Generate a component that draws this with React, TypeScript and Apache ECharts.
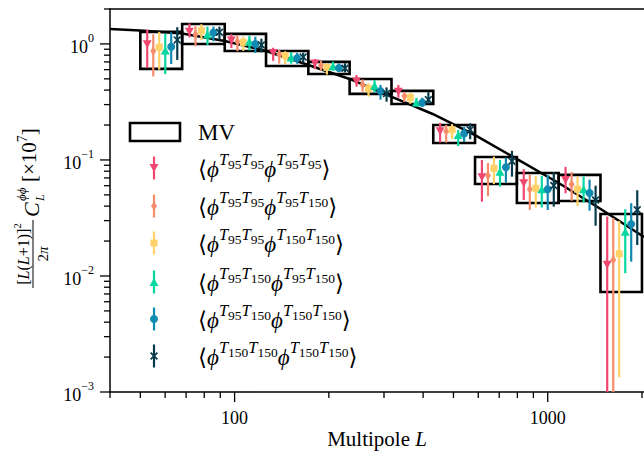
import React, { useEffect, useRef } from 'react';
import * as echarts from 'echarts';

// ---------------- data ----------------
const binEdges = [50, 68, 93, 126, 172, 233, 317, 431, 586, 797, 1084, 1474, 2000];
const mvLow = [0.609, 1.0, 0.870, 0.646, 0.551, 0.371, 0.304, 0.140, 0.0621, 0.0426, 0.0443, 0.00728];
const mvHigh = [1.269, 1.487, 1.22, 0.870, 0.700, 0.499, 0.394, 0.200, 0.106, 0.0773, 0.0743, 0.0342];

const theoryL = [40, 50, 68, 93, 126, 172, 233, 315, 429, 584, 796, 1084, 1476, 2030];
const theoryVal = [1.347, 1.307, 1.232, 1.061, 0.870, 0.659, 0.499, 0.3527, 0.249, 0.1643, 0.102, 0.0633, 0.0378, 0.0217];

const s1Val = [0.994, 1.274, 1.072, 0.836, 0.679, 0.475, 0.388, 0.177, 0.0711, 0.063, 0.0672, 0.0125];
const s1Hi = [1.33, 1.50, 1.212, 0.927, 0.740, 0.540, 0.443, 0.2085, 0.100, 0.0833, 0.0871, 0.0325];
const s1Lo = [0.621, 1.14, 0.924, 0.714, 0.606, 0.428, 0.344, 0.141, 0.0437, 0.0452, 0.0516, 0.0005];

const s2Val = [0.870, 1.203, 1.05, 0.809, 0.653, 0.445, 0.356, 0.177, 0.0735, 0.0559, 0.0618, 0.01374];
const s2Hi = [1.21, 1.42, 1.195, 0.888, 0.717, 0.494, 0.386, 0.2003, 0.0942, 0.0747, 0.0788, 0.0316];
const s2Lo = [0.525, 0.955, 0.865, 0.676, 0.588, 0.388, 0.316, 0.141, 0.0486, 0.0371, 0.0445, 0.0005];

const s3Val = [0.937, 1.30, 1.03, 0.793, 0.627, 0.411, 0.345, 0.182, 0.0847, 0.057, 0.0559, 0.01556];
const s3Hi = [1.27, 1.48, 1.156, 0.865, 0.682, 0.458, 0.378, 0.204, 0.1068, 0.0724, 0.0718, 0.0298];
const s3Lo = [0.600, 1.08, 0.87, 0.670, 0.544, 0.351, 0.305, 0.151, 0.0619, 0.039, 0.0401, 0.00134];

const s4Val = [0.879, 1.203, 1.047, 0.765, 0.642, 0.436, 0.312, 0.164, 0.0793, 0.0559, 0.0559, 0.0241];
const s4Hi = [1.227, 1.41, 1.177, 0.850, 0.704, 0.487, 0.343, 0.182, 0.100, 0.0731, 0.0718, 0.0376];
const s4Lo = [0.549, 0.98, 0.879, 0.675, 0.588, 0.382, 0.288, 0.132, 0.0589, 0.039, 0.043, 0.01055];

const s5Val = [0.946, 1.25, 1.0, 0.754, 0.621, 0.392, 0.312, 0.169, 0.0865, 0.0559, 0.0519, 0.028];
const s5Hi = [1.256, 1.41, 1.153, 0.836, 0.682, 0.443, 0.343, 0.193, 0.1045, 0.0743, 0.0676, 0.0424];
const s5Lo = [0.672, 1.055, 0.836, 0.675, 0.574, 0.331, 0.285, 0.143, 0.0637, 0.0371, 0.0365, 0.01328];

const s6Val = [1.083, 1.26, 0.98, 0.770, 0.617, 0.373, 0.331, 0.182, 0.0975, 0.0603, 0.0452, 0.0372];
const s6Hi = [1.393, 1.41, 1.11, 0.840, 0.682, 0.422, 0.384, 0.207, 0.120, 0.0785, 0.060, 0.0548];
const s6Lo = [0.728, 1.09, 0.845, 0.689, 0.568, 0.318, 0.302, 0.151, 0.0718, 0.0396, 0.0271, 0.0185];

// per-estimator horizontal offset (multiplicative, around bin centre)
const seriesOffsets = [0.902, 0.943, 0.985, 1.030, 1.076, 1.125];
// superscript channel pairs for legend labels
const seriesChannels = [
  [['95', '95'], ['95', '95']],
  [['95', '95'], ['95', '150']],
  [['95', '95'], ['150', '150']],
  [['95', '150'], ['95', '150']],
  [['95', '150'], ['150', '150']],
  [['150', '150'], ['150', '150']],
];
const seriesColors = ['#ef476f', '#f78c6b', '#ffd166', '#06d6a0', '#118ab2', '#073b4c'];
const seriesMarkers = ['down', 'diamond', 'square', 'up', 'circle', 'x'];

const xMajorTicks = [100, 1000];
const xMinorTicks = [40, 50, 60, 70, 80, 90, 200, 300, 400, 500, 600, 700, 800, 900, 2000];
const yMajorTicks = [0.001, 0.01, 0.1, 1];
const yMinorTicks = [0.002, 0.003, 0.004, 0.005, 0.006, 0.007, 0.008, 0.009,
  0.02, 0.03, 0.04, 0.05, 0.06, 0.07, 0.08, 0.09,
  0.2, 0.3, 0.4, 0.5, 0.6, 0.7, 0.8, 0.9, 2];

const X_MIN = 40;
const X_MAX = 2030;
const Y_MIN = 0.001;
const Y_MAX = 2;

const FONT = "'Liberation Serif', 'DejaVu Serif', serif";

const allVal = [s1Val, s2Val, s3Val, s4Val, s5Val, s6Val];
const allHi = [s1Hi, s2Hi, s3Hi, s4Hi, s5Hi, s6Hi];
const allLo = [s1Lo, s2Lo, s3Lo, s4Lo, s5Lo, s6Lo];

const binCenters = binEdges.slice(0, -1).map((e, i) => Math.sqrt(e * binEdges[i + 1]));

const X_PATH = 'path://M0,1.5L1.5,0L5,3.5L8.5,0L10,1.5L6.5,5L10,8.5L8.5,10L5,6.5L1.5,10L0,8.5L3.5,5Z';

function scatterSymbol(kind: string) {
  switch (kind) {
    case 'down': return { symbol: 'triangle', symbolRotate: 180, symbolSize: [9, 8] };
    case 'diamond': return { symbol: 'diamond', symbolRotate: 0, symbolSize: [6, 9] };
    case 'square': return { symbol: 'rect', symbolRotate: 0, symbolSize: 7 };
    case 'up': return { symbol: 'triangle', symbolRotate: 0, symbolSize: [9, 8] };
    case 'circle': return { symbol: 'circle', symbolRotate: 0, symbolSize: 8 };
    default: return { symbol: X_PATH, symbolRotate: 0, symbolSize: 8 };
  }
}

function legendMarker(kind: string, cx: number, cy: number, color: string): any {
  const st = { fill: color };
  switch (kind) {
    case 'down': return { type: 'polygon', shape: { points: [[cx - 4.5, cy - 4], [cx + 4.5, cy - 4], [cx, cy + 4]] }, style: st };
    case 'diamond': return { type: 'polygon', shape: { points: [[cx, cy - 4.5], [cx + 3, cy], [cx, cy + 4.5], [cx - 3, cy]] }, style: st };
    case 'square': return { type: 'rect', shape: { x: cx - 3.5, y: cy - 3.5, width: 7, height: 7 }, style: st };
    case 'up': return { type: 'polygon', shape: { points: [[cx - 4.5, cy + 4], [cx + 4.5, cy + 4], [cx, cy - 4]] }, style: st };
    case 'circle': return { type: 'circle', shape: { cx, cy, r: 4 }, style: st };
    default: {
      const p = [[0, 1.5], [1.5, 0], [5, 3.5], [8.5, 0], [10, 1.5], [6.5, 5], [10, 8.5], [8.5, 10], [5, 6.5], [1.5, 10], [0, 8.5], [3.5, 5]];
      return { type: 'polygon', shape: { points: p.map(([a, b]) => [cx - 4 + a * 0.8, cy - 4 + b * 0.8]) }, style: st };
    }
  }
}

function legendText(ch: string[][]) {
  const sup = (pair: string[]) => `{t|T}{n|${pair[0]}}{t|T}{n|${pair[1]}}`;
  return `{br|⟨}{ph|ϕ}${sup(ch[0])}{ph|ϕ}${sup(ch[1])}{br|⟩}`;
}

const legendRich = {
  br: { fontFamily: FONT, fontSize: 23, lineHeight: 30, verticalAlign: 'bottom', color: '#000' },
  ph: { fontFamily: FONT, fontSize: 23, fontStyle: 'italic', lineHeight: 30, verticalAlign: 'bottom', color: '#000' },
  t: { fontFamily: FONT, fontSize: 16.5, fontStyle: 'italic', lineHeight: 16, verticalAlign: 'top', color: '#000' },
  n: { fontFamily: FONT, fontSize: 13.5, lineHeight: 13, verticalAlign: 'top', padding: [6, 0, 0, 0], color: '#000' },
};

function isPow10(v: number) {
  const e = Math.log10(v);
  return Math.abs(e - Math.round(e)) < 1e-6;
}

function buildOption(): any {
  const series: any[] = [];

  // MV boxes
  series.push({
    type: 'custom',
    name: 'MV',
    coordinateSystem: 'cartesian2d',
    silent: true,
    z: 1,
    encode: { x: [0, 1], y: [2, 3] },
    data: mvLow.map((lo, i) => [binEdges[i], binEdges[i + 1], lo, mvHigh[i]]),
    renderItem: (params: any, api: any) => {
      const p0 = api.coord([api.value(0), api.value(3)]);
      const p1 = api.coord([api.value(1), api.value(2)]);
      return {
        type: 'rect',
        shape: { x: p0[0], y: p0[1], width: p1[0] - p0[0], height: p1[1] - p0[1] },
        style: { fill: 'none', stroke: '#000', lineWidth: 2.6 },
      };
    },
  });

  // theory curve
  series.push({
    type: 'line',
    name: 'theory',
    data: theoryL.map((l, i) => [l, theoryVal[i]]),
    showSymbol: false,
    smooth: false,
    z: 2,
    lineStyle: { color: '#000', width: 2.5, join: 'round' },
    silent: true,
  });

  // estimators
  for (let k = 0; k < 6; k++) {
    const xs = binCenters.map((c) => c * seriesOffsets[k]);
    series.push({
      type: 'custom',
      name: 'err' + k,
      coordinateSystem: 'cartesian2d',
      silent: true,
      z: 3,
      encode: { x: 0, y: [1, 2] },
      data: xs.map((x, i) => [x, allLo[k][i], allHi[k][i]]),
      renderItem: (params: any, api: any) => {
        const cs = params.coordSys;
        const a = api.coord([api.value(0), api.value(2)]);
        const b = api.coord([api.value(0), api.value(1)]);
        const bottom = cs.y + cs.height;
        return {
          type: 'line',
          shape: { x1: a[0], y1: Math.max(a[1], cs.y), x2: b[0], y2: Math.min(b[1], bottom) },
          style: { stroke: seriesColors[k], lineWidth: 2.2 },
        };
      },
    });
    series.push({
      type: 'scatter',
      name: 'pt' + k,
      z: 4,
      silent: true,
      data: xs.map((x, i) => [x, allVal[k][i]]),
      itemStyle: { color: seriesColors[k], opacity: 1 },
      ...scatterSymbol(seriesMarkers[k]),
    });
  }

  // ticks
  const tickStyle = { stroke: '#000', lineWidth: 1.3 };
  series.push({
    type: 'custom',
    name: 'xticks',
    coordinateSystem: 'cartesian2d',
    silent: true,
    clip: false,
    z: 5,
    encode: { x: 0, y: 1 },
    data: [...xMajorTicks.map((v) => [v, Y_MIN, 1]), ...xMinorTicks.map((v) => [v, Y_MIN, 0])],
    renderItem: (params: any, api: any) => {
      const p = api.coord([api.value(0), api.value(1)]);
      const len = api.value(2) ? 10 : 6;
      return { type: 'line', shape: { x1: p[0], y1: p[1], x2: p[0], y2: p[1] + len }, style: tickStyle };
    },
  });
  series.push({
    type: 'custom',
    name: 'yticks',
    coordinateSystem: 'cartesian2d',
    silent: true,
    clip: false,
    z: 5,
    encode: { x: 0, y: 1 },
    data: [...yMajorTicks.map((v) => [X_MIN, v, 1]), ...yMinorTicks.map((v) => [X_MIN, v, 0])],
    renderItem: (params: any, api: any) => {
      const p = api.coord([api.value(0), api.value(1)]);
      const len = api.value(2) ? 10 : 6;
      return { type: 'line', shape: { x1: p[0] - len, y1: p[1], x2: p[0], y2: p[1] }, style: tickStyle };
    },
  });

  // legend (drawn as graphic)
  const graphic: any[] = [];
  graphic.push({ type: 'rect', shape: { x: 130, y: 123, width: 50, height: 18 }, style: { fill: 'none', stroke: '#000', lineWidth: 2.6 } });
  graphic.push({ type: 'text', x: 198, y: 132, style: { text: 'MV', fontFamily: FONT, fontSize: 23, fill: '#000', verticalAlign: 'middle' } });
  const rowY = [168, 206, 243, 282, 319, 356];
  for (let k = 0; k < 6; k++) {
    const cy = rowY[k];
    graphic.push({ type: 'line', shape: { x1: 154, y1: cy - 11.5, x2: 154, y2: cy + 11.5 }, style: { stroke: seriesColors[k], lineWidth: 2.2 } });
    graphic.push(legendMarker(seriesMarkers[k], 154, cy, seriesColors[k]));
    graphic.push({ type: 'text', x: 198, y: cy - 2, style: { text: legendText(seriesChannels[k]), rich: legendRich, verticalAlign: 'middle' } });
  }

  // y axis title
  const rr = { fontFamily: FONT, fontSize: 16, color: '#000', lineHeight: 20, verticalAlign: 'bottom' };
  graphic.push({
    type: 'group', x: 33, y: 288, rotation: Math.PI / 2,
    children: [
      { type: 'text', x: 34, y: -2, style: { text: '{r|[}{i|L}{r|(}{i|L}{r|+1)]}{s|2}', align: 'center', verticalAlign: 'bottom',
        rich: { r: rr, i: { ...rr, fontStyle: 'italic' }, s: { fontFamily: FONT, fontSize: 11, lineHeight: 11, verticalAlign: 'top' } } } },
      { type: 'line', shape: { x1: 0, y1: 0, x2: 68, y2: 0 }, style: { stroke: '#000', lineWidth: 1 } },
      { type: 'text', x: 34, y: 2, style: { text: '{r|2}{i|π}', align: 'center', verticalAlign: 'top',
        rich: { r: { fontFamily: FONT, fontSize: 15 }, i: { fontFamily: FONT, fontSize: 15, fontStyle: 'italic' } } } },
      { type: 'text', x: 71, y: 9, style: { text: 'C', fontFamily: FONT, fontSize: 22, fontStyle: 'italic', fill: '#000', verticalAlign: 'bottom' } },
      { type: 'text', x: 87, y: -5, style: { text: 'ϕϕ', fontFamily: FONT, fontSize: 13, fontStyle: 'italic', fill: '#000', verticalAlign: 'bottom' } },
      { type: 'text', x: 87, y: 1, style: { text: 'L', fontFamily: FONT, fontSize: 12, fontStyle: 'italic', fill: '#000', verticalAlign: 'top' } },
      { type: 'text', x: 106, y: -6, style: { text: '{r|[×10}{s|7}{r|]}', verticalAlign: 'middle',
        rich: { r: { fontFamily: FONT, fontSize: 21, lineHeight: 24, verticalAlign: 'bottom' }, s: { fontFamily: FONT, fontSize: 14, lineHeight: 14, verticalAlign: 'top' } } } },
    ],
  });

  return {
    animation: false,
    backgroundColor: '#fff',
    grid: { left: 110, right: 0, top: 9, bottom: 62, containLabel: false, outerBoundsMode: 'none' },
    xAxis: [
      {
        type: 'log', min: X_MIN, max: X_MAX, logBase: 10,
        axisLine: { show: true, lineStyle: { color: '#000', width: 1.5 } },
        axisTick: { show: false },
        splitLine: { show: false },
        axisLabel: {
          margin: 17, color: '#000', fontFamily: FONT, fontSize: 18,
          formatter: (v: number) => (isPow10(v) ? String(Math.round(v)) : ''),
        },
        name: 'Multipole {i|L}',
        nameLocation: 'middle',
        nameGap: 36,
        nameMoveOverlap: false,
        nameTextStyle: { color: '#000', fontFamily: FONT, fontSize: 21, rich: { i: { fontFamily: FONT, fontSize: 21, fontStyle: 'italic', color: '#000' } } },
      },
      {
        type: 'log', min: X_MIN, max: X_MAX, position: 'top',
        axisLine: { show: true, lineStyle: { color: '#000', width: 1.5 } },
        axisTick: { show: false }, axisLabel: { show: false }, splitLine: { show: false },
      },
    ],
    yAxis: {
      type: 'log', min: Y_MIN, max: Y_MAX, logBase: 10,
      axisLine: { show: true, lineStyle: { color: '#000', width: 1.5 } },
      axisTick: { show: false },
      splitLine: { show: false },
      axisLabel: {
        margin: 16, color: '#000',
        formatter: (v: number) => {
          if (!isPow10(v)) return '';
          const e = Math.round(Math.log10(v));
          return `{b|10}{s|${e < 0 ? '−' + -e : e}}`;
        },
        rich: {
          b: { fontFamily: FONT, fontSize: 18, lineHeight: 24, verticalAlign: 'bottom', color: '#000' },
          s: { fontFamily: FONT, fontSize: 12, lineHeight: 12, verticalAlign: 'top', color: '#000' },
        },
      },
    },
    series,
    graphic,
  };
}

export default function App() {
  const ref = useRef<HTMLDivElement>(null);
  useEffect(() => {
    if (!ref.current) return;
    const chart = echarts.init(ref.current, null, { renderer: 'svg' });
    chart.setOption(buildOption());
    return () => chart.dispose();
  }, []);
  return <div ref={ref} style={{ position: 'absolute', left: 0, top: 0, width: 644, height: 454, background: '#fff' }} />;
}
